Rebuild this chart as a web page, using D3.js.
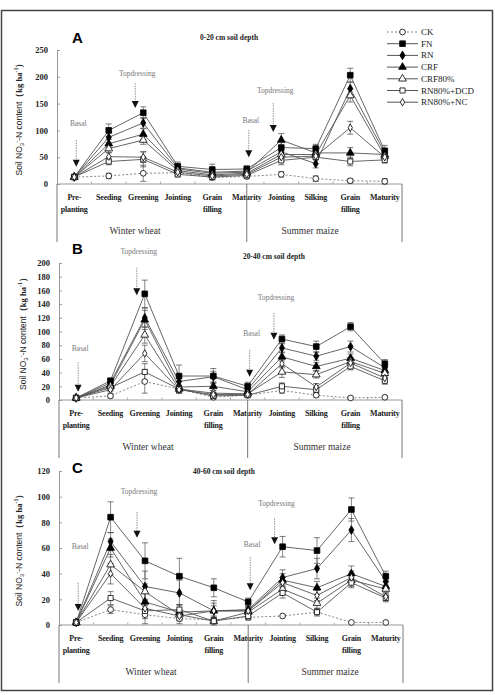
<!DOCTYPE html>
<html>
<head>
<meta charset="utf-8">
<script src="https://cdn.jsdelivr.net/npm/d3@7"></script>
<style>
  body { margin: 0; background: #fff; }
</style>
</head>
<body>
<script>
// growth stages (x categories), wheat first then maize
var stages = [["Pre-", "planting"], ["Seeding"], ["Greening"], ["Jointing"], ["Grain", "filling"],
              ["Maturity"], ["Jointing"], ["Silking"], ["Grain", "filling"], ["Maturity"]];
var seriesNames = ["CK", "FN", "RN", "CRF", "CRF80%", "RN80%+DCD", "RN80%+NC"];

// A: 0-20 cm soil depth
var a_CK    = [13, 15, 20, 21, 12, 14, 18, 10, 6, 5];
var a_FN    = [13, 100, 133, 33, 27, 28, 68, 66, 203, 62];
var a_RN    = [13, 87, 114, 30, 22, 24, 60, 38, 178, 58];
var a_CRF   = [13, 75, 93, 28, 20, 22, 82, 58, 58, 55];
var a_CRF80 = [13, 66, 82, 25, 17, 20, 55, 55, 165, 52];
var a_DCD   = [13, 42, 46, 18, 13, 16, 44, 50, 42, 45];
var a_NC    = [13, 51, 50, 22, 15, 18, 50, 52, 105, 50];
var a_err   = [[2, 5, 15, 5, 4, 4, 5, 5, 4, 5],
               [2, 12, 11, 8, 10, 6, 12, 8, 13, 10],
               [2, 10, 10, 6, 6, 5, 10, 8, 12, 8],
               [2, 8, 10, 5, 5, 5, 12, 6, 10, 8],
               [2, 8, 8, 5, 5, 5, 8, 6, 12, 6],
               [2, 6, 14, 5, 5, 5, 8, 5, 8, 6],
               [2, 8, 10, 5, 5, 5, 8, 6, 12, 6]];
var a_ticks = [0, 50, 100, 150, 200, 250];

// B: 20-40 cm soil depth
var b_CK    = [3, 6, 27, 16, 4, 7, 14, 7, 3, 4];
var b_FN    = [3, 28, 155, 35, 35, 20, 89, 78, 107, 53];
var b_RN    = [3, 25, 120, 27, 34, 15, 76, 64, 78, 47];
var b_CRF   = [3, 22, 117, 19, 20, 12, 63, 49, 61, 43];
var b_CRF80 = [3, 20, 95, 16, 10, 9, 41, 37, 56, 39];
var b_DCD   = [3, 18, 41, 16, 6, 7, 20, 15, 49, 28];
var b_NC    = [3, 15, 68, 15, 8, 8, 53, 19, 54, 32];
var b_err   = [[1, 3, 17, 5, 3, 3, 4, 3, 2, 2],
               [1, 4, 20, 16, 11, 6, 6, 8, 6, 6],
               [1, 4, 14, 10, 8, 5, 6, 6, 8, 5],
               [1, 3, 14, 8, 6, 4, 6, 6, 6, 5],
               [1, 3, 12, 6, 4, 3, 8, 5, 6, 5],
               [1, 3, 12, 5, 3, 3, 5, 4, 5, 5],
               [1, 3, 12, 5, 3, 3, 6, 5, 6, 5]];
var b_ticks = [0, 20, 40, 60, 80, 100, 120, 140, 160, 180, 200];

// C: 40-60 cm soil depth
var c_CK    = [2, 12, 8, 5, 4, 6, 7, 10, 2, 2];
var c_FN    = [2, 84, 50, 38, 29, 18, 61, 58, 90, 38];
var c_RN    = [2, 65, 30, 25, 11, 12, 37, 44, 74, 34];
var c_CRF   = [2, 60, 18, 10, 11, 11, 35, 29, 40, 30];
var c_CRF80 = [2, 47, 26, 8, 3, 10, 28, 17, 35, 28];
var c_DCD   = [2, 21, 11, 12, 3, 7, 25, 10, 33, 21];
var c_NC    = [2, 40, 13, 7, 11, 11, 33, 23, 37, 22];
var c_err   = [[1, 3, 7, 4, 2, 2, 1, 1, 1, 1],
               [1, 12, 14, 14, 7, 3, 8, 10, 9, 4],
               [1, 7, 12, 10, 8, 3, 6, 8, 9, 4],
               [1, 7, 8, 6, 6, 3, 5, 5, 6, 3],
               [1, 8, 6, 4, 3, 3, 4, 4, 5, 3],
               [1, 5, 6, 4, 2, 3, 4, 3, 4, 3],
               [1, 8, 6, 4, 4, 3, 4, 4, 5, 3]];
var c_ticks = [0, 20, 40, 60, 80, 100, 120];

// fertiliser arrows: stage index, label, line top / tip / label height (data units)
var a_arrows = [{at: 0, label: "Basal", top: 82, tip: 32, text: 108},
                {at: 2, label: "Topdressing", top: 188, tip: 142, text: 201},
                {at: 5, label: "Basal", top: 101, tip: 50, text: 114},
                {at: 6, label: "Topdressing", top: 151, tip: 97, text: 170}];
var b_arrows = [{at: 0, label: "Basal", top: 55, tip: 12, text: 72},
                {at: 2, label: "Topdressing", top: 193, tip: 153, text: 213},
                {at: 5, label: "Basal", top: 73, tip: 34, text: 93},
                {at: 6, label: "Topdressing", top: 127, tip: 88, text: 146}];
var c_arrows = [{at: 0, label: "Basal", top: 33, tip: 11, text: 59},
                {at: 2, label: "Topdressing", top: 88, tip: 68, text: 102},
                {at: 5, label: "Basal", top: 53, tip: 27, text: 61},
                {at: 6, label: "Topdressing", top: 83, tip: 63, text: 93}];

var serif = "'Liberation Serif','Times New Roman',serif";
var sans = "'Liberation Sans',Arial,sans-serif";

var markers = {
  "CK":        {sym: d3.symbolCircle,   fill: "#fff", size: 26},
  "FN":        {sym: d3.symbolSquare,   fill: "#000", size: 32},
  "RN":        {sym: d3.symbolDiamond,  fill: "#000", size: 22},
  "CRF":       {sym: d3.symbolTriangle, fill: "#000", size: 26},
  "CRF80%":    {sym: d3.symbolTriangle, fill: "#fff", size: 26},
  "RN80%+DCD": {sym: d3.symbolSquare,   fill: "#fff", size: 26},
  "RN80%+NC":  {sym: d3.symbolDiamond,  fill: "#fff", size: 16}
};

var svg = d3.select("body").append("svg")
  .attr("width", 495).attr("height", 695);

// outer frame
svg.append("rect")
  .attr("x", 1.5).attr("y", 10.5).attr("width", 491).attr("height", 680)
  .attr("fill", "none").attr("stroke", "#444").attr("stroke-width", 1.5);

function drawPanel(p) {
  var x = d3.scalePoint().domain(d3.range(stages.length)).range([p.x0, p.x1]).padding(0.5);
  var y = d3.scaleLinear().domain([0, p.ticks[p.ticks.length - 1]]).range([p.y0, p.y1]);
  var g = svg.append("g");

  // y axis
  var ya = g.append("g")
    .attr("transform", "translate(" + p.x0 + ",0)")
    .call(d3.axisLeft(y).tickValues(p.ticks).tickSizeInner(-3).tickSizeOuter(0).tickPadding(9));
  ya.select(".domain").attr("stroke", "#999");
  ya.selectAll(".tick line").attr("stroke", "#999");
  ya.selectAll("text").attr("font-family", serif).attr("font-weight", "bold")
    .attr("font-size", 8.5).attr("fill", "#222");

  // x axis line and small ticks between stages
  g.append("line").attr("x1", p.x0).attr("x2", p.x1).attr("y1", p.y0).attr("y2", p.y0)
    .attr("stroke", "#999");
  d3.range(1, stages.length).forEach(function(i) {
    var xx = p.x0 + i * x.step();
    g.append("line").attr("x1", xx).attr("x2", xx).attr("y1", p.y0).attr("y2", p.y0 - 2.5)
      .attr("stroke", "#aaa");
  });

  // stage labels
  stages.forEach(function(s, i) {
    var t = g.append("text").attr("x", x(i)).attr("y", p.y0 + 16)
      .attr("text-anchor", "middle").attr("font-family", serif).attr("font-weight", "bold")
      .attr("font-size", 8).attr("letter-spacing", -0.2).attr("fill", "#222");
    s.forEach(function(line, k) {
      t.append("tspan").attr("x", x(i)).attr("dy", k === 0 ? 0 : 11.5).text(line);
    });
  });

  // crop bracket
  [p.x0, x(5), p.x1].forEach(function(xx) {
    g.append("line").attr("x1", xx).attr("x2", xx).attr("y1", p.y0).attr("y2", p.y0 + 58)
      .attr("stroke", "#777").attr("stroke-width", 1);
  });
  g.append("text").attr("x", p.wx).attr("y", p.y0 + 50).attr("text-anchor", "middle")
    .attr("font-family", serif).attr("font-size", 9.5).attr("fill", "#333").text("Winter wheat");
  g.append("text").attr("x", p.mx).attr("y", p.y0 + 50).attr("text-anchor", "middle")
    .attr("font-family", serif).attr("font-size", 9.5).attr("fill", "#333").text("Summer maize");

  // y title
  var yt = g.append("text")
    .attr("transform", "translate(" + p.tx + "," + ((p.y0 + p.y1) / 2) + ") rotate(-90)")
    .attr("text-anchor", "middle").attr("font-size", 8.5).attr("fill", "#222");
  yt.append("tspan").attr("font-family", sans).text("Soil NO");
  yt.append("tspan").attr("font-family", sans).attr("font-size", 6).attr("dy", 2).text("3");
  yt.append("tspan").attr("font-family", sans).attr("font-size", 6).attr("dy", -5).text("-");
  yt.append("tspan").attr("font-family", sans).attr("dy", 3).text("-N content");
  yt.append("tspan").attr("font-family", serif).attr("font-weight", "bold").text("（kg ha");
  yt.append("tspan").attr("font-family", serif).attr("font-weight", "bold").attr("font-size", 6)
    .attr("dy", -4).text("-1");
  yt.append("tspan").attr("font-family", serif).attr("font-weight", "bold").attr("dy", 4).text("）");

  // panel letter and depth title
  g.append("text").attr("x", 72).attr("y", p.letterY).attr("font-family", sans)
    .attr("font-weight", "bold").attr("font-size", 15).text(p.letter);
  g.append("text").attr("x", p.titleX).attr("y", p.titleY).attr("font-family", serif)
    .attr("font-weight", "bold").attr("font-size", 7.5).attr("fill", "#222").text(p.title);

  // annotation arrows
  p.arrows.forEach(function(a) {
    var ax = x(a.at) + (a.label === "Basal" ? 2 : -8);
    var tipY = y(a.tip);
    g.append("line").attr("x1", ax).attr("x2", ax).attr("y1", y(a.top)).attr("y2", tipY - 6)
      .attr("stroke", "#888").attr("stroke-width", 0.9).attr("stroke-dasharray", "1.5,1");
    g.append("path")
      .attr("d", "M" + (ax - 3.5) + "," + (tipY - 7) + "L" + (ax + 3.5) + "," + (tipY - 7) + "L" + ax + "," + tipY + "Z")
      .attr("fill", "#111");
    g.append("text").attr("x", ax + 2).attr("y", y(a.text)).attr("text-anchor", "middle")
      .attr("font-family", serif).attr("font-size", 7.5).attr("fill", "#777").text(a.label);
  });

  var line = d3.line().x(function(d, i) { return x(i); }).y(function(d) { return y(d); });

  // series lines
  p.series.forEach(function(vals, s) {
    var path = g.append("path").datum(vals).attr("d", line).attr("fill", "none")
      .attr("stroke", s === 0 ? "#888" : "#555").attr("stroke-width", s === 0 ? 1 : 0.9);
    if (s === 0) path.attr("stroke-dasharray", "2,2");
  });

  // error bars
  p.series.forEach(function(vals, s) {
    vals.forEach(function(v, i) {
      var e = p.err[s][i];
      if (e < 2) return;
      var yt0 = y(v + e), yb0 = y(Math.max(0, v - e)), xx = x(i);
      g.append("line").attr("x1", xx).attr("x2", xx).attr("y1", yt0).attr("y2", yb0)
        .attr("stroke", "#555").attr("stroke-width", 0.7);
      [yt0, yb0].forEach(function(yy) {
        g.append("line").attr("x1", xx - 3).attr("x2", xx + 3).attr("y1", yy).attr("y2", yy)
          .attr("stroke", "#444").attr("stroke-width", 0.7);
      });
    });
  });

  // markers
  p.series.forEach(function(vals, s) {
    var m = markers[seriesNames[s]];
    g.selectAll(null).data(vals).enter().append("path")
      .attr("transform", function(d, i) { return "translate(" + x(i) + "," + y(d) + ")"; })
      .attr("d", d3.symbol().type(m.sym).size(m.size))
      .attr("fill", m.fill).attr("stroke", "#000").attr("stroke-width", 0.8);
  });
}

drawPanel({letter: "A", letterY: 43, title: "0-20 cm soil depth", titleX: 200, titleY: 40,
  x0: 57, x1: 402, y0: 184, y1: 50, ticks: a_ticks, tx: 22, wx: 135, mx: 310,
  series: [a_CK, a_FN, a_RN, a_CRF, a_CRF80, a_DCD, a_NC], err: a_err, arrows: a_arrows});
drawPanel({letter: "B", letterY: 254, title: "20-40 cm soil depth", titleX: 243, titleY: 259,
  x0: 59, x1: 402, y0: 400, y1: 263, ticks: b_ticks, tx: 26, wx: 148, mx: 322,
  series: [b_CK, b_FN, b_RN, b_CRF, b_CRF80, b_DCD, b_NC], err: b_err, arrows: b_arrows});
drawPanel({letter: "C", letterY: 473, title: "40-60 cm soil depth", titleX: 193, titleY: 474,
  x0: 59, x1: 403, y0: 625, y1: 471, ticks: c_ticks, tx: 22, wx: 151, mx: 330,
  series: [c_CK, c_FN, c_RN, c_CRF, c_CRF80, c_DCD, c_NC], err: c_err, arrows: c_arrows});

// legend
var legend = svg.append("g").selectAll("g").data(seriesNames).enter().append("g")
  .attr("transform", function(d, i) { return "translate(387," + (32 + i * 11.7) + ")"; });
legend.append("line").attr("x1", 0).attr("x2", 31).attr("y1", 0).attr("y2", 0)
  .attr("stroke", function(d, i) { return i === 0 ? "#888" : "#555"; })
  .attr("stroke-dasharray", function(d, i) { return i === 0 ? "2,2" : null; });
legend.append("path")
  .attr("transform", "translate(15.5,0)")
  .attr("d", function(d) { return d3.symbol().type(markers[d].sym).size(markers[d].size)(); })
  .attr("fill", function(d) { return markers[d].fill; })
  .attr("stroke", "#000").attr("stroke-width", 0.8);
legend.append("text").attr("x", 34).attr("y", 3).attr("font-family", serif)
  .attr("font-size", 9).attr("fill", "#222").text(function(d) { return d; });
</script>
</body>
</html>
